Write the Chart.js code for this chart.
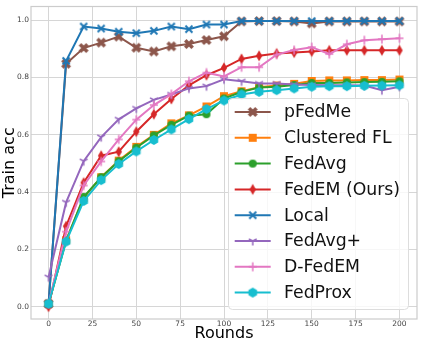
<!DOCTYPE html>
<html>
<head>
<meta charset="utf-8">
<script src="https://cdn.jsdelivr.net/npm/chart.js@4.4.1/dist/chart.umd.min.js"></script>
<style>
    html, body { margin: 0; padding: 0; background: #fff; }
    #wrap { width: 423px; height: 345px; }
</style>
</head>
<body>
<div id="wrap"><canvas id="accChart" width="423" height="345"></canvas></div>
<script>
const rounds = [0, 10, 20, 30, 40, 50, 60, 70, 80, 90, 100, 110, 120, 130, 140, 150, 160, 170, 180, 190, 200];

const pFedMe     = [0.010, 0.848, 0.903, 0.922, 0.943, 0.904, 0.891, 0.909, 0.917, 0.931, 0.944, 0.996, 0.997, 0.997, 0.996, 0.989, 0.996, 0.996, 0.996, 0.996, 0.996];
const clustered  = [0.010, 0.232, 0.380, 0.452, 0.510, 0.558, 0.600, 0.640, 0.668, 0.699, 0.735, 0.752, 0.766, 0.772, 0.778, 0.788, 0.790, 0.790, 0.791, 0.791, 0.793];
const fedAvg     = [0.010, 0.230, 0.383, 0.452, 0.508, 0.555, 0.598, 0.635, 0.667, 0.672, 0.727, 0.750, 0.765, 0.768, 0.774, 0.781, 0.781, 0.783, 0.784, 0.785, 0.787];
const fedEM      = [0.000, 0.281, 0.433, 0.527, 0.541, 0.611, 0.672, 0.725, 0.773, 0.808, 0.834, 0.865, 0.876, 0.884, 0.887, 0.891, 0.895, 0.895, 0.895, 0.895, 0.895];
const local      = [0.010, 0.858, 0.978, 0.971, 0.960, 0.955, 0.963, 0.978, 0.969, 0.985, 0.985, 0.997, 0.997, 0.997, 0.997, 0.997, 0.997, 0.997, 0.997, 0.997, 0.997];
const fedAvgPlus = [0.103, 0.364, 0.508, 0.592, 0.654, 0.692, 0.722, 0.741, 0.762, 0.770, 0.794, 0.787, 0.779, 0.779, 0.776, 0.774, 0.773, 0.773, 0.772, 0.756, 0.768];
const dFedEM     = [0.010, 0.262, 0.423, 0.507, 0.584, 0.653, 0.704, 0.742, 0.787, 0.817, 0.804, 0.836, 0.836, 0.880, 0.896, 0.906, 0.882, 0.916, 0.930, 0.934, 0.937];
const fedProx    = [0.010, 0.227, 0.369, 0.442, 0.498, 0.542, 0.582, 0.619, 0.655, 0.690, 0.720, 0.741, 0.750, 0.756, 0.762, 0.768, 0.770, 0.770, 0.771, 0.772, 0.773];

const labels = ["pFedMe", "Clustered FL", "FedAvg", "FedEM (Ours)", "Local", "FedAvg+", "D-FedEM", "FedProx"];
const xTicks = [0, 25, 50, 75, 100, 125, 150, 175, 200];
const yTicks = [0.0, 0.2, 0.4, 0.6, 0.8, 1.0];

const FONT = "'DejaVu Sans', sans-serif";

// small canvases used as point markers (matplotlib-like shapes)
function makeMarker(shape, color) {
    const size = 14;
    const c = document.createElement("canvas");
    c.width = size;
    c.height = size;
    const g = c.getContext("2d");
    g.translate(size / 2, size / 2);
    g.fillStyle = color;
    g.strokeStyle = color;
    g.beginPath();
    switch (shape) {
        case "X":
            g.lineWidth = 3.6;
            g.moveTo(-3.7, -3.7); g.lineTo(3.7, 3.7);
            g.moveTo(3.7, -3.7); g.lineTo(-3.7, 3.7);
            g.stroke();
            break;
        case "s":
            g.fillRect(-4, -4, 8, 8);
            break;
        case "o":
            g.arc(0, 0, 4, 0, Math.PI * 2);
            g.fill();
            break;
        case "d":
            g.moveTo(0, -5.5); g.lineTo(3.2, 0); g.lineTo(0, 5.5); g.lineTo(-3.2, 0);
            g.closePath();
            g.fill();
            break;
        case "x":
            g.lineWidth = 2;
            g.moveTo(-3.5, -3.5); g.lineTo(3.5, 3.5);
            g.moveTo(3.5, -3.5); g.lineTo(-3.5, 3.5);
            g.stroke();
            break;
        case "1":
            g.lineWidth = 1.5;
            g.moveTo(0, 0); g.lineTo(0, 4.5);
            g.moveTo(0, 0); g.lineTo(-3.9, -2.2);
            g.moveTo(0, 0); g.lineTo(3.9, -2.2);
            g.stroke();
            break;
        case "+":
            g.lineWidth = 1.5;
            g.moveTo(0, -4.5); g.lineTo(0, 4.5);
            g.moveTo(-4, 0); g.lineTo(4, 0);
            g.stroke();
            break;
        case "h":
            for (let k = 0; k < 6; k++) {
                const a = -Math.PI / 2 + k * Math.PI / 3;
                const px = 5 * Math.cos(a), py = 5 * Math.sin(a);
                if (k === 0) g.moveTo(px, py); else g.lineTo(px, py);
            }
            g.closePath();
            g.fill();
            break;
    }
    return c;
}

const series = [pFedMe, clustered, fedAvg, fedEM, local, fedAvgPlus, dFedEM, fedProx];
const colors = ["#8c564b", "#ff7f0e", "#2ca02c", "#d62728", "#1f77b4", "#9467bd", "#e377c2", "#17becf"];
const shapes = ["X", "s", "o", "d", "x", "1", "+", "h"];

const datasets = series.map((vals, i) => ({
    label: labels[i],
    data: rounds.map((r, j) => ({ x: r, y: vals[j] })),
    borderColor: colors[i],
    backgroundColor: colors[i],
    borderWidth: 2,
    pointStyle: makeMarker(shapes[i], colors[i]),
    pointRadius: 4,
    tension: 0,
    order: series.length - i
}));

// light gray frame around the plot area
const framePlugin = {
    id: "frame",
    beforeDatasetsDraw(chart) {
        const { ctx, chartArea: a } = chart;
        ctx.save();
        ctx.strokeStyle = "#cccccc";
        ctx.lineWidth = 1.2;
        ctx.strokeRect(a.left, a.top, a.right - a.left, a.bottom - a.top);
        ctx.restore();
    }
};

// legend box in the lower right corner, line + marker handles
const legendPlugin = {
    id: "boxLegend",
    afterDatasetsDraw(chart) {
        const { ctx, chartArea: a } = chart;
        const rowH = 25.8, boxW = 180, boxH = 211;
        const right = a.right - 9, bottom = a.bottom - 10;
        const left = right - boxW, top = bottom - boxH;
        ctx.save();
        ctx.beginPath();
        ctx.roundRect(left + 0.5, top + 0.5, boxW, boxH, 4);
        ctx.fillStyle = "rgba(255,255,255,0.8)";
        ctx.fill();
        ctx.strokeStyle = "#dddddd";
        ctx.lineWidth = 1;
        ctx.stroke();
        chart.data.datasets.forEach((ds, i) => {
            const y = top + 14 + i * rowH;
            ctx.strokeStyle = ds.borderColor;
            ctx.lineWidth = 2;
            ctx.beginPath();
            ctx.moveTo(left + 6.7, y);
            ctx.lineTo(left + 42.7, y);
            ctx.stroke();
            const img = ds.pointStyle;
            ctx.drawImage(img, left + 24.7 - img.width / 2, y - img.height / 2);
            ctx.fillStyle = "#111";
            ctx.font = "17.3px " + FONT;
            ctx.textBaseline = "middle";
            ctx.textAlign = "left";
            ctx.fillText(ds.label, left + 56, y + 1);
        });
        ctx.restore();
    }
};

const ctx = document.getElementById("accChart").getContext("2d");
new Chart(ctx, {
    type: "line",
    data: { datasets },
    plugins: [framePlugin, legendPlugin],
    options: {
        responsive: false,
        animation: false,
        devicePixelRatio: 1,
        layout: { padding: { top: 2, right: 2, left: 0, bottom: 0 } },
        plugins: { legend: { display: false }, tooltip: { enabled: false } },
        scales: {
            x: {
                type: "linear",
                min: -10,
                max: 210,
                afterBuildTicks: (s) => { s.ticks = xTicks.map((v) => ({ value: v })); },
                afterFit: (s) => { s.height = 26; },
                grid: { color: "#d6d6d6", lineWidth: 1, drawTicks: false },
                border: { display: false },
                ticks: {
                    font: { family: FONT, size: 7.5 },
                    color: "#444",
                    padding: 1,
                    maxRotation: 0,
                    callback: (v) => String(v)
                },
                title: {
                    display: true,
                    text: "Rounds",
                    color: "#000",
                    font: { family: FONT, size: 16 },
                    padding: { top: 0, bottom: 1.5 }
                }
            },
            y: {
                min: -0.043,
                max: 1.048,
                afterBuildTicks: (s) => { s.ticks = yTicks.map((v) => ({ value: v })); },
                afterFit: (s) => { s.width = 31; },
                grid: { color: "#d6d6d6", lineWidth: 1, drawTicks: false },
                border: { display: false },
                ticks: {
                    font: { family: FONT, size: 7.5 },
                    color: "#444",
                    padding: 2,
                    callback: (v) => v.toFixed(1)
                },
                title: {
                    display: true,
                    text: "Train acc",
                    color: "#000",
                    font: { family: FONT, size: 16 },
                    padding: { top: 0, bottom: 0 }
                }
            }
        }
    }
});
</script>
</body>
</html>
